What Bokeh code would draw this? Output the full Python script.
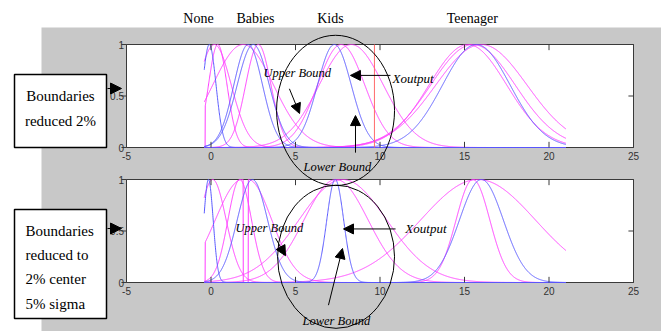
import numpy as np
from bokeh.plotting import figure
from bokeh.models import Range1d, Arrow, NormalHead
from bokeh.core.properties import value
from bokeh.embed import file_html
from bokeh.resources import INLINE

# ---------------- data ----------------
CATEGORIES = ["None", "Babies", "Kids", "Teenager"]
X_TICKS = [-5, 0, 5, 10, 15, 20, 25]
X_TICK_LABELS = ["-5", "0", "5", "10", "15", "20", "25"]
Y_TICKS = [0, 0.5, 1]
Y_TICK_LABELS = ["0", "0.5", "1"]
X_DOMAIN = [-0.4, 21.0]

# top panel: boundaries reduced 2%
TOP_BLUE_CENTER = [-0.1, 2.2, 2.5, 7.3, 15.7]
TOP_BLUE_SIGMA = [0.4, 0.85, 0.95, 1.0, 2.0]
TOP_MAG_CENTER = [0.4, 0.2, 1.9, 2.8, 7.7, 8.3, 15.2, 15.5, 16.0]
TOP_MAG_SIGMA = [0.55, 1.0, 1.8, 0.75, 1.4, 1.9, 2.3, 2.5, 2.7]
TOP_MAG_LO = [-0.35, -0.4, -0.4, -0.4, -0.4, -0.4, -0.4, -0.4, -0.4]
TOP_MAG_HI = [21, 21, 21, 21, 21, 21, 21, 21, 21]
TOP_XOUTPUT = 9.67

# bottom panel: boundaries reduced to 2% center, 5% sigma
BOT_BLUE_CENTER = [-0.15, 2.45, 7.35, 16.0]
BOT_BLUE_SIGMA = [0.28, 0.9, 0.5, 1.3]
BOT_MAG_CENTER = [0.1, 1.85, 2.2, 1.7, 7.4, 7.8, 15.5, 15.8]
BOT_MAG_SIGMA = [0.8, 1.6, 1.4, 0.7, 1.9, 2.6, 1.0, 3.4]
BOT_MAG_LO = [-0.4, -0.35, 2.2, -0.4, -0.4, -0.4, -0.4, -0.4]
BOT_MAG_HI = [21, 1.9, 21, 21, 21, 21, 21, 21]

# ---------------- layout ----------------
W, H = 661, 331
FX0, FX1 = 126, 633          # canvas px of x=-5 and x=25
TOP_Y1, TOP_Y0 = 44, 147     # canvas px of y=1 / y=0 (top panel)
BOT_Y1, BOT_Y0 = 179, 282    # bottom panel
GRAY = "#c8c8c8"
BLUE = "#5a5aff"
MAGENTA = "#ff3cff"
RED = "#ff6a6a"
SERIF = value("Liberation Serif")
SANS = value("Liberation Sans")

upx = (X_TICKS[-1] - X_TICKS[0]) / (FX1 - FX0)
x_rng = Range1d(X_TICKS[0] - FX0 * upx, X_TICKS[-1] + (W - FX1) * upx)


def y_rng(y1, y0):
    u = 1.0 / (y0 - y1)
    return Range1d(-(H - y0) * u, 1 + y1 * u)


p = figure(width=W, height=H, x_range=Range1d(0, W), y_range=Range1d(H, 0),
           output_backend="svg", toolbar_location=None, min_border=0,
           x_axis_location=None, y_axis_location=None, outline_line_color=None,
           background_fill_color="white", border_fill_color="white")
p.grid.grid_line_color = None
p.extra_x_ranges = {"data": x_rng}
p.extra_y_ranges = {"top": y_rng(TOP_Y1, TOP_Y0), "bot": y_rng(BOT_Y1, BOT_Y0)}

# gray figure background
p.quad(left=41, right=W, top=27, bottom=H, fill_color=GRAY, line_color=None)

grid = np.linspace(X_DOMAIN[0], X_DOMAIN[1], 2141)


def mf(c, s, lo=-1e9, hi=1e9):
    y = np.exp(-0.5 * ((grid - c) / s) ** 2)
    y[(grid < lo) | (grid > hi)] = 0.0
    return y


xt = X_TICKS
tick_dy = 0.055
tick_dx = 0.3
panels = [
    ("top", TOP_BLUE_CENTER, TOP_BLUE_SIGMA, TOP_MAG_CENTER, TOP_MAG_SIGMA, TOP_MAG_LO, TOP_MAG_HI),
    ("bot", BOT_BLUE_CENTER, BOT_BLUE_SIGMA, BOT_MAG_CENTER, BOT_MAG_SIGMA, BOT_MAG_LO, BOT_MAG_HI),
]
for rn, bc, bs, mc, ms, mlo, mhi in panels:
    kw = dict(x_range_name="data", y_range_name=rn)
    p.quad(left=xt[0], right=xt[-1], bottom=Y_TICKS[0], top=Y_TICKS[-1],
           fill_color="white", line_color="#3a3a3a", line_width=1, **kw)
    mys = [mf(c, s, lo, hi) for c, s, lo, hi in zip(mc, ms, mlo, mhi)]
    p.multi_line(xs=[grid] * len(mys), ys=mys, line_color=MAGENTA, line_width=1, **kw)
    bys = [mf(c, s) for c, s in zip(bc, bs)]
    p.multi_line(xs=[grid] * len(bys), ys=bys, line_color=BLUE, line_width=1, **kw)
    # ticks (inward, MATLAB style)
    p.segment(x0=xt, y0=[0] * len(xt), x1=xt, y1=[tick_dy] * len(xt), line_color="#3a3a3a", **kw)
    p.segment(x0=xt, y0=[1] * len(xt), x1=xt, y1=[1 - tick_dy] * len(xt), line_color="#3a3a3a", **kw)
    p.segment(x0=[xt[-1]] * 3, y0=Y_TICKS, x1=[xt[-1] - tick_dx] * 3, y1=Y_TICKS, line_color="#3a3a3a", **kw)
    p.segment(x0=[xt[0]] * 3, y0=Y_TICKS, x1=[xt[0] - tick_dx] * 3, y1=Y_TICKS, line_color="#3a3a3a", **kw)
    # tick labels
    p.text(x=xt, y=[-0.045] * len(xt), text=X_TICK_LABELS, text_font=SANS, text_font_size="10px",
           text_color="#333333", text_align="center", text_baseline="top", **kw)
    p.text(x=[xt[0] - 0.15] * 3, y=Y_TICKS, text=Y_TICK_LABELS, text_font=SANS, text_font_size="10px",
           text_color="#333333", text_align="right", text_baseline="middle", **kw)

# Xoutput line in the top panel
p.segment(x0=[TOP_XOUTPUT], y0=[0], x1=[TOP_XOUTPUT], y1=[1], line_color=RED, line_width=1,
          x_range_name="data", y_range_name="top")

# category labels above the top panel
p.text(x=[-0.74, 2.63, 7.07, 15.46], y=[18] * 4, text=CATEGORIES, text_font=SERIF,
       text_font_size="14px", text_align="center", text_baseline="middle", text_color="black",
       x_range_name="data")

# ellipses around the Kids sets
p.ellipse(x=[7.37], y=[0.36], width=[6.98], height=[1.46], fill_color=None, line_color="black",
          line_width=1, x_range_name="data", y_range_name="top")
p.ellipse(x=[7.4], y=[0.25], width=[6.92], height=[1.39], fill_color=None, line_color="black",
          line_width=1, x_range_name="data", y_range_name="bot")

# annotation texts
ann = dict(text_font=SERIF, text_font_style="italic", text_align="left", text_baseline="middle",
           text_color="black", x_range_name="data")
p.text(x=[3.1, 5.47], y=[0.72, -0.19], text=["Upper Bound", "Lower Bound"], text_font_size="12.5px",
       y_range_name="top", **ann)
p.text(x=[10.74], y=[0.67], text=["Xoutput"], text_font_size="13px", y_range_name="top", **ann)
p.text(x=[1.45, 5.41], y=[0.53, -0.37], text=["Upper Bound", "Lower Bound"], text_font_size="12.5px",
       y_range_name="bot", **ann)
p.text(x=[11.5], y=[0.52], text=["Xoutput"], text_font_size="13px", y_range_name="bot", **ann)


def arrow(x0, y0, x1, y1, size=10, **kw):
    p.add_layout(Arrow(x_start=x0, y_start=y0, x_end=x1, y_end=y1, line_color="black", line_width=1,
                       end=NormalHead(size=size, fill_color="black", line_color="black"), **kw))


arrow(4.64, 0.57, 5.24, 0.33, x_range_name="data", y_range_name="top")
arrow(10.62, 0.70, 8.25, 0.70, x_range_name="data", y_range_name="top")
arrow(8.55, -0.05, 8.55, 0.31, x_range_name="data", y_range_name="top")
arrow(3.82, 0.43, 4.41, 0.26, x_range_name="data", y_range_name="bot")
arrow(10.92, 0.52, 7.84, 0.52, x_range_name="data", y_range_name="bot")
arrow(6.95, -0.22, 7.78, 0.33, x_range_name="data", y_range_name="bot")

# explanation boxes on the left
p.quad(left=[14, 14], right=[106, 106], top=[74, 209], bottom=[147, 318], fill_color="white",
       line_color="black", line_width=1.5)
p.text(x=[60, 60], y=[95, 120], text=["Boundaries", "reduced 2%"], text_font=SERIF,
       text_font_size="15px", text_align="center", text_baseline="middle", text_color="black")
p.text(x=[25] * 4, y=[230, 254, 278, 303], text=["Boundaries", "reduced to", "2% center", "5% sigma"],
       text_font=SERIF, text_font_size="15px", text_align="left", text_baseline="middle",
       text_color="black")
arrow(107, 88, 121, 88, size=11)
arrow(107, 228, 121, 228, size=11)

open("out.html", "w").write(file_html(p, INLINE))
